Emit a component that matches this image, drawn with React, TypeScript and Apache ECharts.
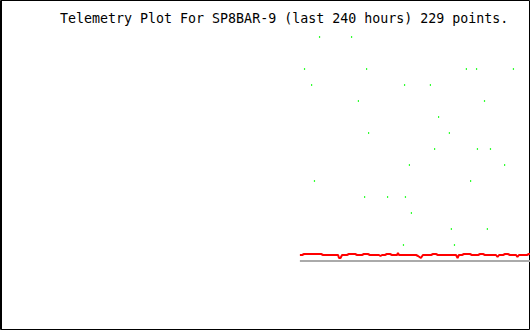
import React, { useEffect, useRef } from "react";
import * as echarts from "echarts";

const TITLE = "Telemetry Plot For SP8BAR-9 (last 240 hours) 229 points.";

// x: hours relative to now (-240 .. 0), y: telemetry level
const greenPoints: [number, number][] = [
  [-95.3, 14], [-80.8, 14],
  [-102.1, 12], [-74.0, 12], [-28.8, 12], [-24.2, 12], [-7.5, 12],
  [-98.9, 11], [-56.8, 11], [-45.1, 11],
  [-77.7, 10], [-20.6, 10],
  [-41.4, 9],
  [-73.1, 8], [-36.5, 8],
  [-43.2, 7], [-23.8, 7], [-17.9, 7],
  [-54.6, 6], [-11.5, 6],
  [-97.6, 5], [-26.9, 5],
  [-74.9, 4], [-64.5, 4], [-56.4, 4],
  [-53.7, 3],
  [-35.6, 2], [-19.3, 2],
  [-57.3, 1], [-34.2, 1],
];

const redLine: [number, number][] = [
  [-104.2, 0.375], [-103.2, 0.375], [-102.3, 0.4375], [-94.6, 0.4375], [-93.7, 0.375],
  [-86.9, 0.375], [-86.5, 0.1875], [-85.8, 0.1875], [-85.1, 0.375], [-82.9, 0.375],
  [-82.0, 0.4375], [-79.2, 0.4375], [-78.3, 0.375], [-76.1, 0.375], [-75.2, 0.4375],
  [-73.4, 0.4375], [-72.5, 0.375], [-68.4, 0.375], [-67.7, 0.3125], [-67.0, 0.375],
  [-65.7, 0.375], [-64.8, 0.4375], [-63.4, 0.4375], [-62.5, 0.375], [-60.2, 0.375],
  [-59.8, 0.5], [-59.3, 0.375], [-51.6, 0.375], [-50.7, 0.3125], [-49.4, 0.1875],
  [-48.5, 0.375], [-44.8, 0.375], [-43.9, 0.4375], [-42.6, 0.4375], [-41.7, 0.375],
  [-33.5, 0.375], [-32.8, 0.1875], [-32.2, 0.375], [-30.8, 0.375], [-29.9, 0.4375],
  [-27.2, 0.4375], [-26.3, 0.375], [-23.5, 0.375], [-22.6, 0.4375], [-21.3, 0.4375],
  [-20.4, 0.375], [-15.4, 0.375], [-14.7, 0.25], [-14.0, 0.375], [-12.2, 0.375],
  [-11.3, 0.4375], [-10.0, 0.4375], [-9.1, 0.375], [-6.3, 0.375], [-5.7, 0.25],
  [-5.0, 0.375], [-1.4, 0.375], [-0.5, 0.4375], [0, 0.4375],
];

const baseLine: [number, number][] = [
  [-104.2, 0], [0, 0],
];

export default function App() {
  const ref = useRef<HTMLDivElement>(null);
  useEffect(() => {
    if (!ref.current) return;
    const chart = echarts.init(ref.current, undefined, { renderer: "svg" });
    chart.setOption({
      animation: false,
      backgroundColor: "#ffffff",
      grid: { left: 0, right: 0, top: 0, bottom: 69, containLabel: false },
      xAxis: {
        type: "value",
        min: -240,
        max: 0,
        show: false,
      },
      yAxis: {
        type: "value",
        min: 0,
        max: 16.3125,
        show: false,
      },
      series: [
        {
          type: "line",
          data: baseLine,
          symbol: "none",
          lineStyle: { color: "#aaaaaa", width: 2 },
          clip: false,
          z: 1,
        },
        {
          type: "line",
          data: redLine,
          symbol: "none",
          lineStyle: { color: "#ff0000", width: 2 },
          clip: false,
          z: 2,
        },
        {
          type: "scatter",
          data: greenPoints,
          symbol: "rect",
          symbolSize: [1.2, 2],
          itemStyle: { color: "#00ff00" },
          clip: false,
          z: 3,
        },
      ],
      graphic: [
        {
          type: "rect",
          shape: { x: 0.5, y: 0.5, width: 529, height: 329 },
          style: { fill: "none", stroke: "#000000", lineWidth: 1 },
          silent: true,
        },
        {
          type: "line",
          shape: { x1: 1.5, y1: 0, x2: 1.5, y2: 330 },
          style: { stroke: "#000000", lineWidth: 1 },
          silent: true,
        },
        {
          type: "text",
          x: 60,
          y: 18,
          style: {
            text: TITLE,
            fill: "#000000",
            font: "13.3px 'DejaVu Sans Mono', monospace",
            verticalAlign: "middle",
            align: "left",
          },
          silent: true,
        },
      ],
    });
    return () => chart.dispose();
  }, []);
  return (
    <div
      ref={ref}
      style={{ position: "fixed", left: 0, top: 0, width: 530, height: 330 }}
    />
  );
}
